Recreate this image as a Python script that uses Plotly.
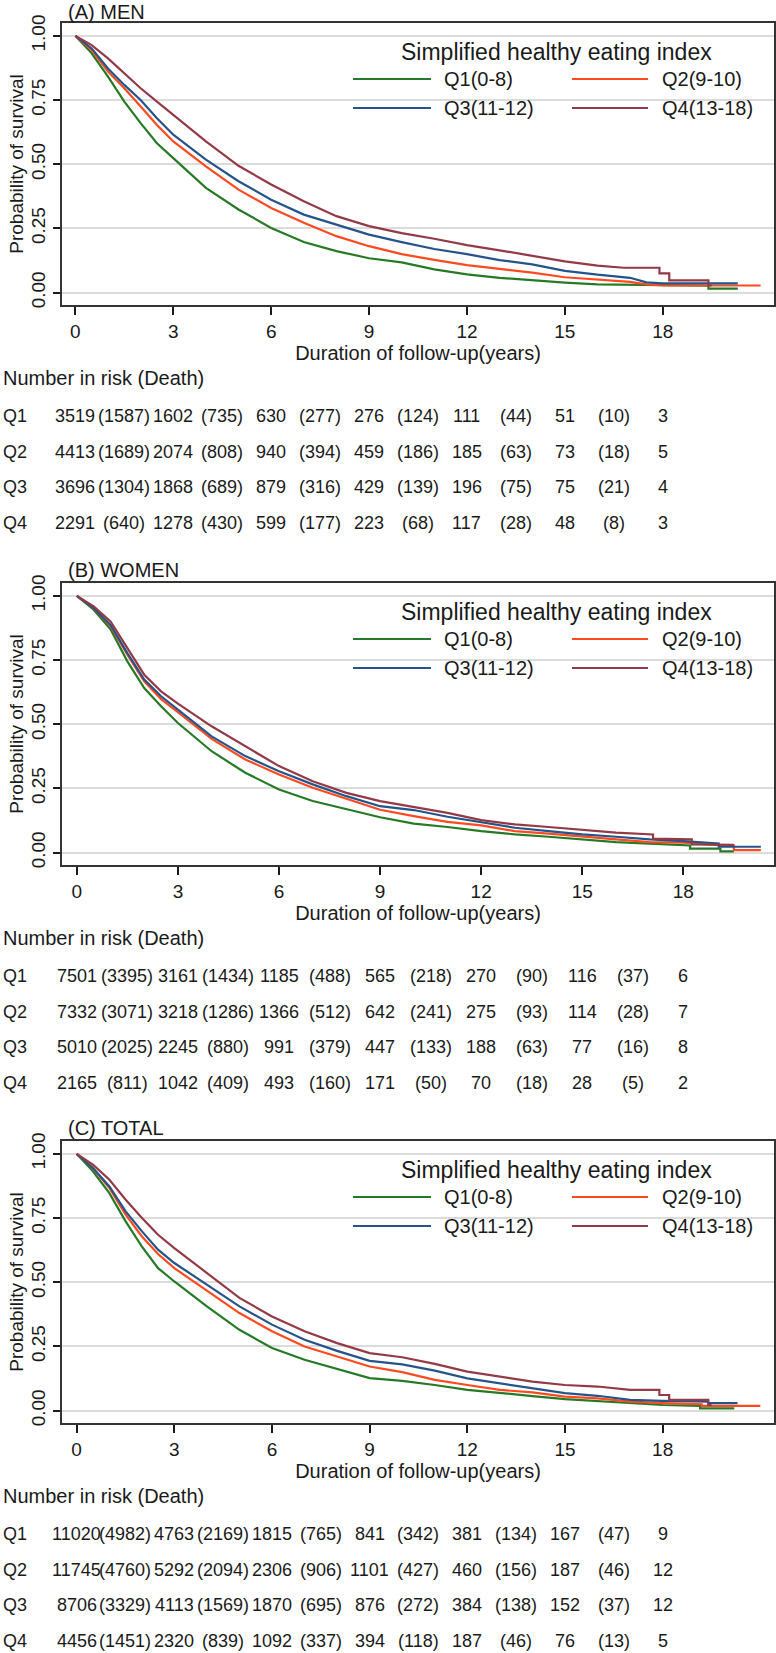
import plotly.graph_objects as go

# ---------------- data ----------------
GROUPS = ["Q1(0-8)", "Q2(9-10)", "Q3(11-12)", "Q4(13-18)"]
ROW_LABELS = ["Q1", "Q2", "Q3", "Q4"]
COLORS = ["#267a26", "#ff4a1f", "#24548a", "#933a47"]
PANEL_TITLES = ["(A) MEN", "(B) WOMEN", "(C) TOTAL"]
X_TICKS = [0, 3, 6, 9, 12, 15, 18]
Y_TICKS = [0, 0.25, 0.5, 0.75, 1.0]
Y_TICK_TEXT = ["0.00", "0.25", "0.50", "0.75", "1.00"]
RISK_TIMES = [0, 3, 6, 9, 12, 15, 18]
DEATH_TIMES = [1.5, 4.5, 7.5, 10.5, 13.5, 16.5]

# (A) MEN - survival curves (time in years, probability)
men_q1_t = [0, .5, 1, 1.5, 2, 2.5, 3, 4, 5, 6, 7, 8, 9, 10, 11, 12, 13, 14, 15, 16, 17, 18, 19.4, 19.4, 20.3]
men_q1_s = [1, .932, .841, .744, .660, .582, .524, .408, .324, .252, .197, .162, .134, .118, .091, .071, .058, .048, .039, .032, .030, .028, .027, .016, .016]
men_q2_t = [0, .5, 1, 1.5, 2, 2.5, 3, 4, 5, 6, 7, 8, 9, 10, 11, 12, 13, 14, 15, 16, 17, 17.5, 18, 21.0]
men_q2_s = [1, .945, .861, .796, .725, .653, .589, .492, .401, .330, .272, .220, .181, .150, .128, .107, .093, .078, .060, .052, .042, .032, .028, .028]
men_q3_t = [0, .5, 1, 1.5, 2, 2.5, 3, 4, 5, 6, 7, 8, 9, 10, 11, 12, 13, 14, 15, 16, 17, 17.5, 18, 20.3]
men_q3_s = [1, .951, .873, .809, .750, .679, .615, .518, .434, .362, .304, .265, .226, .197, .170, .150, .127, .110, .085, .070, .058, .040, .036, .036]
men_q4_t = [0, .5, 1, 1.5, 2, 2.5, 3, 4, 5, 6, 7, 8, 9, 10, 11, 12, 13, 14, 15, 16, 16.8, 17.9, 17.9, 18.2, 18.2, 19.4, 19.4, 19.5]
men_q4_s = [1, .964, .912, .854, .796, .744, .692, .589, .494, .421, .356, .298, .259, .232, .210, .185, .165, .142, .122, .105, .097, .097, .075, .075, .048, .048, .028, .028]

# (B) WOMEN
wom_q1_t = [0, .5, 1, 1.5, 2, 2.5, 3, 4, 5, 6, 7, 8, 9, 10, 11, 12, 13, 14, 15, 16, 17, 18, 18.2, 18.2, 19.1, 19.1, 19.5]
wom_q1_s = [1, .946, .870, .745, .641, .570, .505, .395, .311, .246, .201, .168, .138, .113, .100, .084, .071, .062, .052, .041, .035, .028, .028, .016, .016, .005, .005]
wom_q2_t = [0, .5, 1, 1.5, 2, 2.5, 3, 4, 5, 6, 7, 8, 9, 10, 11, 12, 13, 14, 15, 16, 17, 18, 19, 19.5, 19.5, 20.3]
wom_q2_s = [1, .952, .883, .771, .667, .598, .547, .443, .363, .304, .253, .210, .167, .142, .120, .106, .084, .074, .062, .052, .041, .039, .030, .028, .010, .010]
wom_q3_t = [0, .5, 1, 1.5, 2, 2.5, 3, 4, 5, 6, 7, 8, 9, 10, 11, 12, 13, 14, 15, 16, 17, 18, 19.05, 19.05, 20.3]
wom_q3_s = [1, .952, .887, .777, .674, .609, .557, .453, .376, .317, .266, .220, .181, .166, .140, .117, .097, .084, .071, .062, .052, .045, .036, .023, .023]
wom_q4_t = [0, .5, 1, 1.5, 2, 2.5, 3, 4, 5, 6, 7, 8, 9, 10, 11, 12, 13, 14, 15, 16, 17.1, 17.1, 18.25, 18.25, 19.5]
wom_q4_s = [1, .959, .900, .797, .693, .628, .580, .492, .415, .337, .278, .233, .201, .179, .155, .127, .110, .100, .088, .078, .071, .055, .052, .032, .030]

# (C) TOTAL
tot_q1_t = [0, .5, 1, 1.5, 2, 2.5, 3, 4, 5, 6, 7, 8, 9, 10, 11, 12, 13, 14, 15, 16, 17, 18, 19.15, 19.15, 20.2]
tot_q1_s = [1, .932, .848, .738, .640, .555, .503, .406, .315, .244, .198, .162, .127, .116, .100, .081, .068, .057, .045, .038, .029, .022, .019, .009, .009]
tot_q2_t = [0, .5, 1, 1.5, 2, 2.5, 3, 4, 5, 6, 7, 8, 9, 10, 11, 12, 13, 14, 15, 16, 17, 18, 19.2, 19.2, 21.0]
tot_q2_s = [1, .945, .868, .764, .679, .610, .555, .467, .380, .309, .250, .211, .172, .150, .120, .100, .081, .071, .055, .048, .035, .029, .025, .019, .019]
tot_q3_t = [0, .5, 1, 1.5, 2, 2.5, 3, 4, 5, 6, 7, 8, 9, 10, 11, 12, 13, 14, 15, 16, 17, 18, 19.4, 19.4, 20.3]
tot_q3_s = [1, .945, .874, .777, .699, .627, .575, .490, .406, .335, .276, .233, .194, .180, .156, .126, .107, .087, .068, .058, .042, .038, .035, .029, .029]
tot_q4_t = [0, .5, 1, 1.5, 2, 2.5, 3, 4, 5, 6, 7, 8, 9, 10, 11, 12, 13, 14, 15, 16, 17, 17.9, 17.9, 18.2, 18.2, 19.4, 19.4, 19.5]
tot_q4_s = [1, .958, .900, .822, .751, .685, .633, .536, .439, .367, .309, .263, .224, .208, .182, .152, .133, .113, .100, .094, .081, .081, .061, .061, .042, .042, .022, .022]

# Number at risk / deaths tables
men_risk = [[3519, 1602, 630, 276, 111, 51, 3], [4413, 2074, 940, 459, 185, 73, 5],
            [3696, 1868, 879, 429, 196, 75, 4], [2291, 1278, 599, 223, 117, 48, 3]]
men_death = [[1587, 735, 277, 124, 44, 10], [1689, 808, 394, 186, 63, 18],
             [1304, 689, 316, 139, 75, 21], [640, 430, 177, 68, 28, 8]]
wom_risk = [[7501, 3161, 1185, 565, 270, 116, 6], [7332, 3218, 1366, 642, 275, 114, 7],
            [5010, 2245, 991, 447, 188, 77, 8], [2165, 1042, 493, 171, 70, 28, 2]]
wom_death = [[3395, 1434, 488, 218, 90, 37], [3071, 1286, 512, 241, 93, 28],
             [2025, 880, 379, 133, 63, 16], [811, 409, 160, 50, 18, 5]]
tot_risk = [[11020, 4763, 1815, 841, 381, 167, 9], [11745, 5292, 2306, 1101, 460, 187, 12],
            [8706, 4113, 1870, 876, 384, 152, 12], [4456, 2320, 1092, 394, 187, 76, 5]]
tot_death = [[4982, 2169, 765, 342, 134, 47], [4760, 2094, 906, 427, 156, 46],
             [3329, 1569, 695, 272, 138, 37], [1451, 839, 337, 118, 46, 13]]

# ---------------- layout helpers ----------------
W, H = 776, 1653
ML, MR = 62, 2
PW = W - ML - MR
FONT = "Liberation Sans, Arial, Helvetica, sans-serif"
INK = "#1a1a1a"


def px_x(x):
    return (x - ML) / PW


def px_y(y):
    return 1 - y / H


panels = [
    dict(curves=[(men_q1_t, men_q1_s), (men_q2_t, men_q2_s), (men_q3_t, men_q3_s), (men_q4_t, men_q4_s)],
         risk=men_risk, death=men_death, xr=[-0.41, 21.41], dy=0),
    dict(curves=[(wom_q1_t, wom_q1_s), (wom_q2_t, wom_q2_s), (wom_q3_t, wom_q3_s), (wom_q4_t, wom_q4_s)],
         risk=wom_risk, death=wom_death, xr=[-0.44, 20.69], dy=560),
    dict(curves=[(tot_q1_t, tot_q1_s), (tot_q2_t, tot_q2_s), (tot_q3_t, tot_q3_s), (tot_q4_t, tot_q4_s)],
         risk=tot_risk, death=tot_death, xr=[-0.45, 21.42], dy=1118),
]

PLOT_TOP = 23
PLOT_H = 282

fig = go.Figure()
annotations = []
shapes = []
layout_axes = {}


def note(text, x, y, size, xref="paper", xanchor="left", yanchor="middle"):
    return dict(text=text, x=x, y=y, xref=xref, yref="paper", xanchor=xanchor, yanchor=yanchor,
                showarrow=False, borderpad=0, font=dict(size=size, color=INK, family=FONT))


for i, p in enumerate(panels):
    k = "" if i == 0 else str(i + 1)
    xa, ya = "x" + k, "y" + k
    dy = p["dy"]
    top = PLOT_TOP + dy
    for g, (t, s) in enumerate(p["curves"]):
        fig.add_trace(go.Scatter(x=t, y=s, mode="lines", name=GROUPS[g],
                                 line=dict(color=COLORS[g], width=2.2),
                                 xaxis=xa, yaxis=ya, showlegend=False,
                                 hoverinfo="x+y+name"))
    layout_axes["xaxis" + k] = dict(
        domain=[0, 1], anchor=ya, range=p["xr"], tickmode="array", tickvals=X_TICKS,
        ticks="outside", ticklen=8, tickwidth=1.5, tickcolor=INK,
        showline=True, linecolor="#333333", linewidth=2, mirror=True,
        showgrid=False, zeroline=False, automargin=False,
        tickfont=dict(size=19, color=INK, family=FONT),
        title=dict(text="Duration of follow-up(years)", font=dict(size=20, color=INK, family=FONT), standoff=2),
    )
    layout_axes["yaxis" + k] = dict(
        domain=[px_y(top + PLOT_H), px_y(top)], anchor=xa, range=[-0.048, 1.05],
        tickmode="array", tickvals=Y_TICKS, ticktext=Y_TICK_TEXT, tickangle=-90,
        ticks="outside", ticklen=7, tickwidth=1.5, tickcolor=INK,
        showline=True, linecolor="#333333", linewidth=2, mirror=True,
        showgrid=True, gridcolor="#dcdcdc", gridwidth=1.5, zeroline=False, automargin=False,
        tickfont=dict(size=19, color=INK, family=FONT),
        title=dict(text="Probability of survival", font=dict(size=19, color=INK, family=FONT), standoff=0),
    )
    # panel title
    annotations.append(note(PANEL_TITLES[i], px_x(67), px_y(dy + (0 if i == 0 else -2)), 20, yanchor="top"))
    # legend (drawn inside the plot area)
    annotations.append(note("Simplified healthy eating index", px_x(556), px_y(52 + dy), 23, xanchor="center"))
    for g in range(4):
        row, col = divmod(g, 2)
        ly = 79 + 29 * row + dy
        x0, x1, tx = (353, 431, 443) if col == 0 else (572, 648, 661)
        shapes.append(dict(type="line", xref="paper", yref="paper", x0=px_x(x0), x1=px_x(x1),
                           y0=px_y(ly), y1=px_y(ly), line=dict(color=COLORS[g], width=2.2)))
        annotations.append(note(GROUPS[g], px_x(tx), px_y(ly), 20))
    # risk table
    annotations.append(note("Number in risk (Death)", px_x(2), px_y(378 + dy), 20))
    for r in range(4):
        ry = px_y(416 + 35.5 * r + dy)
        annotations.append(note(ROW_LABELS[r], px_x(2), ry, 18))
        for tt, v in zip(RISK_TIMES, p["risk"][r]):
            annotations.append(note(str(v), tt, ry, 18, xref=xa, xanchor="center"))
        for tt, v in zip(DEATH_TIMES, p["death"][r]):
            annotations.append(note("(" + str(v) + ")", tt, ry, 18, xref=xa, xanchor="center"))

fig.update_layout(
    template="none",
    width=W, height=H,
    margin=dict(l=ML, r=MR, t=0, b=0, pad=0),
    paper_bgcolor="white", plot_bgcolor="white",
    font=dict(family=FONT, color=INK),
    showlegend=False,
    annotations=annotations,
    shapes=shapes,
    **layout_axes,
)

# remove the browser's default 8px body margin so the figure fills the window exactly
fig.write_html("out.html", config={"displayModeBar": False},
               post_script="document.body.style.margin='0px';")
